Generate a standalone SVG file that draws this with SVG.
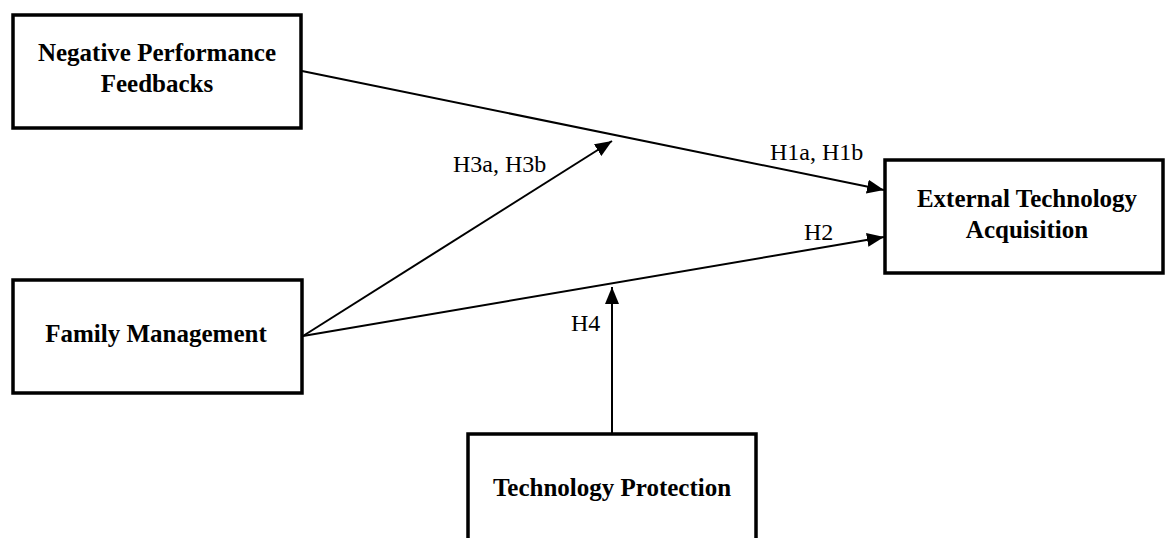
<svg xmlns="http://www.w3.org/2000/svg" width="1166" height="538" viewBox="0 0 1166 538">
<style>
.box{fill:#fff;stroke:#000;stroke-width:3.5}
.nt{font-family:"Liberation Serif","Times New Roman",serif;font-weight:bold;font-size:25px;fill:#000;text-anchor:middle}
.lbl{font-family:"Liberation Serif","Times New Roman",serif;font-size:24px;fill:#000}
.ln{stroke:#000;stroke-width:2;fill:none;marker-end:url(#ah)}
</style>
<defs>
<marker id="ah" markerUnits="userSpaceOnUse" markerWidth="18" markerHeight="14" refX="17" refY="7" orient="auto">
<path d="M0,0 L17,7 L0,14 Z" fill="#000"/>
</marker>
</defs>
<rect width="1166" height="538" fill="#fff"/>
<g id="connectors">
<line class="ln" x1="302" y1="71" x2="884" y2="190"/>
<line class="ln" x1="303" y1="336" x2="884" y2="237"/>
<line class="ln" x1="303" y1="336" x2="612" y2="141"/>
<line class="ln" x1="612" y1="433" x2="612" y2="287"/>
<text class="lbl" x="453" y="172">H3a, H3b</text>
<text class="lbl" x="770" y="160">H1a, H1b</text>
<text class="lbl" x="804" y="240">H2</text>
<text class="lbl" x="571" y="331">H4</text>
</g>
<g id="npf">
<rect class="box" x="13" y="15" width="288" height="113"/>
<text class="nt" x="157" y="61">Negative Performance</text>
<text class="nt" x="157" y="92">Feedbacks</text>
</g>
<g id="eta">
<rect class="box" x="885" y="160" width="278" height="113"/>
<text class="nt" x="1027" y="207">External Technology</text>
<text class="nt" x="1027" y="238">Acquisition</text>
</g>
<g id="fm">
<rect class="box" x="13" y="280" width="289" height="113"/>
<text class="nt" x="156" y="342">Family Management</text>
</g>
<g id="tp">
<rect class="box" x="468" y="434" width="288" height="120"/>
<text class="nt" x="612" y="496">Technology Protection</text>
</g>
</svg>
